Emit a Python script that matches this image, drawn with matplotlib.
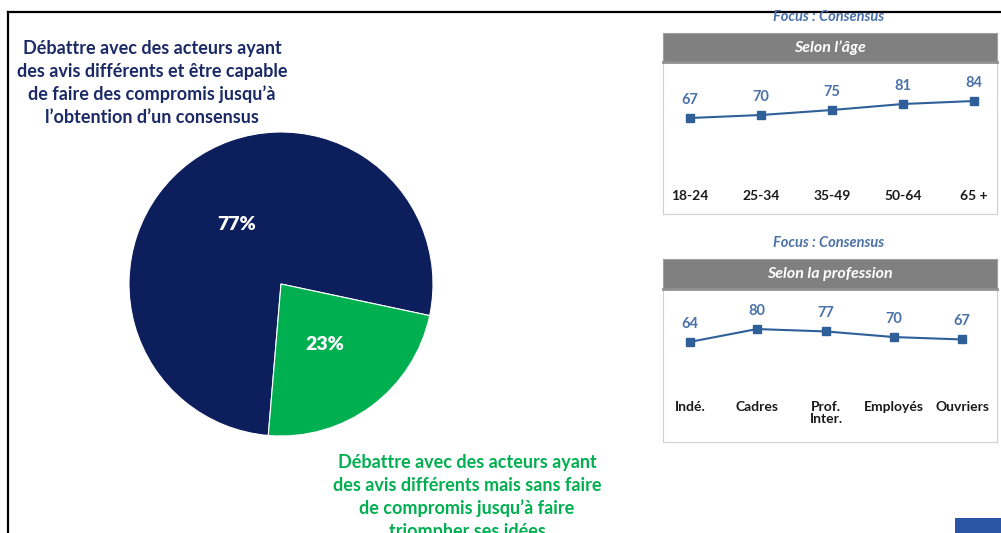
import matplotlib.pyplot as plt
from matplotlib.lines import Line2D
from matplotlib.patches import Rectangle
from matplotlib.transforms import blended_transform_factory

plt.rcParams["font.family"] = ["Lato", "DejaVu Sans"]

W, H = 1001, 533

pie_values = [77, 23]
pie_labels = ["77%", "23%"]
pie_colors = ["#0c1f5c", "#00b050"]

title_consensus = ("Débattre avec des acteurs ayant\ndes avis différents et être capable\n"
                   "de faire des compromis jusqu’à\nl’obtention d’un consensus")
title_sans = ("Débattre avec des acteurs ayant\ndes avis différents mais sans faire\n"
              "de compromis jusqu’à faire\ntriompher ses idées")

age_labels = ["18-24", "25-34", "35-49", "50-64", "65 +"]
age_values = [67, 70, 75, 81, 84]

prof_labels = ["Indé.", "Cadres", "Prof.\nInter.", "Employés", "Ouvriers"]
prof_values = [64, 80, 77, 70, 67]

line_color = "#2f5f98"
label_color = "#4a72a8"


def box(x0, y0, x1, y1):
    # pixel box (top-left origin) -> figure fraction rect
    return [x0 / W, 1 - y1 / H, (x1 - x0) / W, (y1 - y0) / H]


fig = plt.figure(figsize=(W / 100, H / 100), dpi=100)

# frame lines
fig.add_artist(Line2D([8 / W, 1], [1 - 12 / H, 1 - 12 / H], color="black", lw=1.6))
fig.add_artist(Line2D([8 / W, 8 / W], [1 - 12 / H, 0], color="black", lw=1.6))

# pie
ax = fig.add_axes(box(128, 132, 434, 436))
ax.pie(pie_values, colors=pie_colors, startangle=-12, counterclock=True,
       wedgeprops=dict(edgecolor="white", linewidth=0.8))
ax.set_xlim(-1, 1)
ax.set_ylim(-1, 1)
ax.set_aspect("equal")
ax.text(-0.29, 0.39, pie_labels[0], color="white", fontsize=14, fontweight="heavy",
        ha="center", va="center")
ax.text(0.29, -0.4, pie_labels[1], color="white", fontsize=14, fontweight="heavy",
        ha="center", va="center")

fig.text(152 / W, 1 - 83 / H, title_consensus, color="#1b2a66", fontsize=13,
         fontweight="bold", ha="center", va="center", linespacing=1.38)
fig.text(467 / W, 1 - 497 / H, title_sans, color="#00b050", fontsize=13,
         fontweight="bold", ha="center", va="center", linespacing=1.38)


def panel(top, hdr_bottom, bottom, title, header, labels, values, xs, ylim, lab_y):
    fig.text(829 / W, 1 - (top - 16) / H, title, color="#4a72a8", fontsize=10.5,
             fontweight="bold", style="italic", ha="center", va="center")
    hdr = fig.add_axes(box(663, top, 997, hdr_bottom))
    hdr.set_facecolor("#808080")
    hdr.set_xticks([])
    hdr.set_yticks([])
    for s in hdr.spines.values():
        s.set_color("#a0a0a0")
    hdr.text(0.5, 0.5, header, color="white", fontsize=11.5, fontweight="bold",
             style="italic", ha="center", va="center", transform=hdr.transAxes)

    a = fig.add_axes(box(663, hdr_bottom, 997, bottom))
    a.set_xlim(663, 997)
    a.set_ylim(*ylim)
    a.plot(xs, values, color=line_color, lw=1.5, marker="s", markersize=6)
    for x, v in zip(xs, values):
        a.annotate(str(v), (x, v), xytext=(0, 8), textcoords="offset points",
                   ha="center", va="bottom", color=label_color, fontsize=10.5,
                   fontweight="bold")
    tr = blended_transform_factory(a.transData, a.transAxes)
    for x, lab in zip(xs, labels):
        a.text(x, lab_y, lab, transform=tr, ha="center", va="top", fontsize=10,
               fontweight="bold", color="#1a1a1a", linespacing=1.05)
    a.set_xticks([])
    a.set_yticks([])
    for s in a.spines.values():
        s.set_color("#d0d0d0")
    a.spines["top"].set_color("#909090")
    a.spines["top"].set_linewidth(2)


panel(33, 62, 214, "Focus : Consensus", "Selon l’âge", age_labels, age_values,
      [690, 761, 832, 903, 974], (-29, 123), 0.16)
panel(259, 289, 442, "Focus : Consensus", "Selon la profession", prof_labels, prof_values,
      [690, 757, 826, 894, 962], (-61, 130), 0.27)

# logo fragment
fig.add_artist(Rectangle((955 / W, 0), 46 / W, 15 / H, transform=fig.transFigure,
                         facecolor="#2a56a5", edgecolor="none"))

fig.savefig("out.png", dpi=100)
